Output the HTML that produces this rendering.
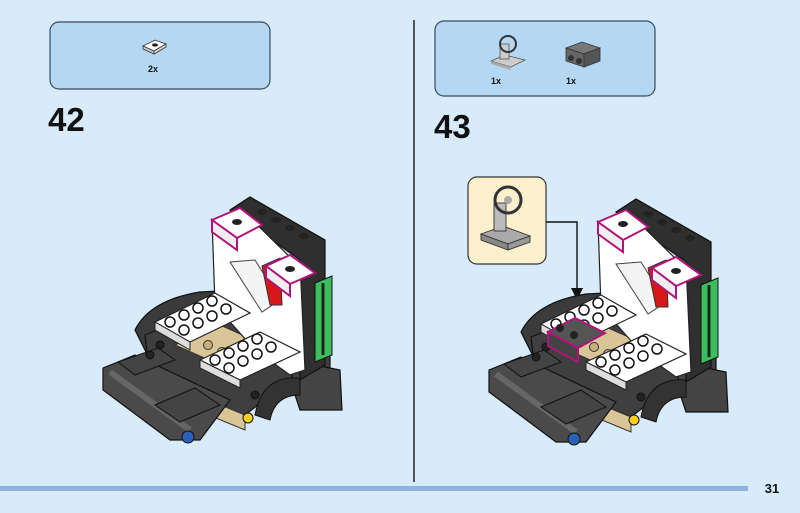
<!DOCTYPE html>
<html><head><meta charset="utf-8"><style>
html,body{margin:0;padding:0;background:#d7ebfa;}
svg{display:block;font-family:"Liberation Sans",sans-serif;}
</style></head><body>
<svg width="800" height="513" viewBox="0 0 800 513" xmlns="http://www.w3.org/2000/svg">
<rect width="800" height="513" fill="#d7ebfa"/>
<line x1="414" y1="20" x2="414" y2="482" stroke="#222" stroke-width="1.5"/>
<rect x="0" y="486" width="748" height="5" fill="#8fb2e0"/>
<text x="772" y="493" font-size="13" font-weight="bold" fill="#111" text-anchor="middle">31</text>

<rect x="50" y="22" width="220" height="67" rx="9" fill="#b4d7f3" stroke="#3a4a5a" stroke-width="1.2"/>
<polygon points="143,46 155,40 166,44 154,51" fill="#fff" stroke="#333" stroke-width="0.8"/>
<polygon points="143,46 154,51 154,54 143,49" fill="#ccc" stroke="#333" stroke-width="0.8"/>
<polygon points="154,51 166,44 166,47 154,54" fill="#ddd" stroke="#333" stroke-width="0.8"/>
<ellipse cx="155" cy="45" rx="3" ry="1.6" fill="#222"/>
<text x="148" y="72" font-size="9" font-weight="bold" fill="#111">2x</text>
<text x="48" y="131" font-size="33" font-weight="bold" fill="#111">42</text>

<rect x="435" y="21" width="220" height="75" rx="9" fill="#b4d7f3" stroke="#3a4a5a" stroke-width="1.2"/>
<polygon points="491,61 505,55 525,60 511,67" fill="#ccc" stroke="#555" stroke-width="0.8"/>
<polygon points="491,61 511,67 511,70 491,64" fill="#aaa"/>
<rect x="500" y="44" width="9" height="15" fill="#ccc" stroke="#555" stroke-width="0.8"/>
<circle cx="508" cy="44" r="8" fill="none" stroke="#333" stroke-width="2"/>
<polygon points="566,48 582,42 600,48 584,54" fill="#777" stroke="#333" stroke-width="0.8"/>
<polygon points="566,48 584,54 584,67 566,61" fill="#666" stroke="#333" stroke-width="0.8"/>
<polygon points="584,54 600,48 600,61 584,67" fill="#555" stroke="#333" stroke-width="0.8"/>
<circle cx="571" cy="58" r="3" fill="#333"/><circle cx="579" cy="61" r="3" fill="#333"/>
<text x="491" y="84" font-size="9" font-weight="bold" fill="#111">1x</text>
<text x="566" y="84" font-size="9" font-weight="bold" fill="#111">1x</text>
<text x="434" y="138" font-size="33" font-weight="bold" fill="#111">43</text>

<rect x="468" y="177" width="78" height="87" rx="9" fill="#fdf0cc" stroke="#333" stroke-width="1.2"/>
<polygon points="481,234 503,226 530,236 508,244" fill="#aaa" stroke="#333" stroke-width="0.9"/>
<polygon points="481,234 508,244 508,250 481,240" fill="#888" stroke="#333" stroke-width="0.9"/>
<polygon points="508,244 530,236 530,242 508,250" fill="#999" stroke="#333" stroke-width="0.9"/>
<rect x="494" y="203" width="12" height="28" fill="#bbb" stroke="#333" stroke-width="0.9"/>
<circle cx="508" cy="200" r="13" fill="none" stroke="#333" stroke-width="3"/>
<circle cx="508" cy="200" r="4" fill="#aaa"/>
<polyline points="546,222 577,222 577,292" fill="none" stroke="#111" stroke-width="1.4"/>
<polygon points="571,288 583,288 577,300" fill="#111"/>

<defs>
<g id="model">
  <path d="M135,330 Q150,300 200,292 L240,290 L240,330 L150,360 Z" fill="#3b3b3b" stroke="#111" stroke-width="1.2"/>
  <polygon points="145,335 230,300 330,345 330,395 290,380 245,415 150,380" fill="#3f3f3f" stroke="#111" stroke-width="1.2"/>
  <polygon points="290,360 340,370 342,410 300,410 295,395" fill="#444" stroke="#111" stroke-width="1.2"/>
  <path d="M255,415 Q262,375 300,378 L300,395 Q275,395 270,420 Z" fill="#333" stroke="#111"/>
  <polygon points="160,380 245,415 245,430 160,395" fill="#d9c596" stroke="#333"/>
  <polygon points="175,345 220,325 265,345 220,365" fill="#d9c596" stroke="#333"/>
  <circle cx="208" cy="345" r="4.5" fill="#c9b07a" stroke="#333"/><circle cx="222" cy="352" r="4.5" fill="#c9b07a" stroke="#333"/>
  <polygon points="103,368 135,355 230,400 200,440 170,440 103,390" fill="#4a4a4a" stroke="#111" stroke-width="1.2"/>
  <line x1="110" y1="372" x2="190" y2="430" stroke="#666" stroke-width="6"/>
  <polygon points="118,362 158,348 175,360 135,375" fill="#444" stroke="#111"/>
  <polygon points="155,405 195,388 220,405 180,422" fill="#444" stroke="#111"/>
  <circle cx="188" cy="437" r="6" fill="#2a5fb8" stroke="#111"/>
  <circle cx="248" cy="418" r="5" fill="#f5d020" stroke="#111"/>
  <g fill="#222" stroke="#111"><circle cx="160" cy="345" r="4"/><circle cx="150" cy="355" r="4"/><circle cx="285" cy="365" r="4"/><circle cx="300" cy="355" r="4"/><circle cx="255" cy="395" r="4"/></g>
  <polygon points="230,210 250,197 325,240 325,365 300,380 300,260" fill="#2f2f2f" stroke="#111" stroke-width="1.2"/>
  <polygon points="315,283 332,276 332,355 315,362" fill="#3bbf5d" stroke="#111"/>
  <line x1="323" y1="283" x2="323" y2="355" stroke="#222" stroke-width="3"/>
  <polygon points="212,220 240,208 295,262 300,262 305,370 290,375 255,350 215,305" fill="#fff" stroke="#222" stroke-width="1.2"/>
  <polygon points="230,262 255,260 280,300 262,312" fill="#f4f4f4" stroke="#444"/>
  <polygon points="262,266 280,258 282,305 270,305" fill="#d81818" stroke="#333"/>
  <polygon points="212,220 240,208 262,225 237,238" fill="#fff" stroke="#b0147a" stroke-width="2"/>
  <polygon points="212,220 237,238 237,250 212,232" fill="#eee" stroke="#b0147a" stroke-width="2"/>
  <polygon points="266,266 290,255 315,273 290,284" fill="#fff" stroke="#b0147a" stroke-width="2"/>
  <polygon points="266,266 290,284 290,296 266,278" fill="#eee" stroke="#b0147a" stroke-width="2"/>
  <ellipse cx="237" cy="222" rx="5" ry="3" fill="#222"/>
  <ellipse cx="290" cy="269" rx="5" ry="3" fill="#222"/>
  <g fill="#222"><ellipse cx="262" cy="212" rx="5" ry="3"/><ellipse cx="276" cy="220" rx="5" ry="3"/><ellipse cx="290" cy="228" rx="5" ry="3"/><ellipse cx="304" cy="236" rx="5" ry="3"/></g>
  <polygon points="155,322 215,293 250,313 190,342" fill="#fff" stroke="#222" stroke-width="1.2"/>
  <polygon points="155,322 190,342 190,350 155,330" fill="#ddd" stroke="#222"/>
  <polygon points="200,360 260,332 300,352 240,380" fill="#fff" stroke="#222" stroke-width="1.2"/>
  <polygon points="200,360 240,380 240,388 200,368" fill="#ddd" stroke="#222"/>
  <g fill="#fff" stroke="#111" stroke-width="1.5">
    <circle cx="170" cy="322" r="5"/><circle cx="184" cy="315" r="5"/><circle cx="198" cy="308" r="5"/><circle cx="212" cy="301" r="5"/>
    <circle cx="184" cy="330" r="5"/><circle cx="198" cy="323" r="5"/><circle cx="212" cy="316" r="5"/><circle cx="226" cy="309" r="5"/>
    <circle cx="215" cy="360" r="5"/><circle cx="229" cy="353" r="5"/><circle cx="243" cy="346" r="5"/><circle cx="257" cy="339" r="5"/>
    <circle cx="229" cy="368" r="5"/><circle cx="243" cy="361" r="5"/><circle cx="257" cy="354" r="5"/><circle cx="271" cy="347" r="5"/>
  </g>
</g>
</defs>
<use href="#model"/>
<use href="#model" transform="translate(386,2)"/>
<polygon points="548,332 575,318 605,333 578,348" fill="#555" stroke="#b0147a" stroke-width="2"/>
<polygon points="548,332 578,348 578,362 548,346" fill="#444" stroke="#b0147a" stroke-width="2"/>
<circle cx="560" cy="328" r="4" fill="#222"/><circle cx="574" cy="335" r="4" fill="#222"/>
</svg>
</body></html>
